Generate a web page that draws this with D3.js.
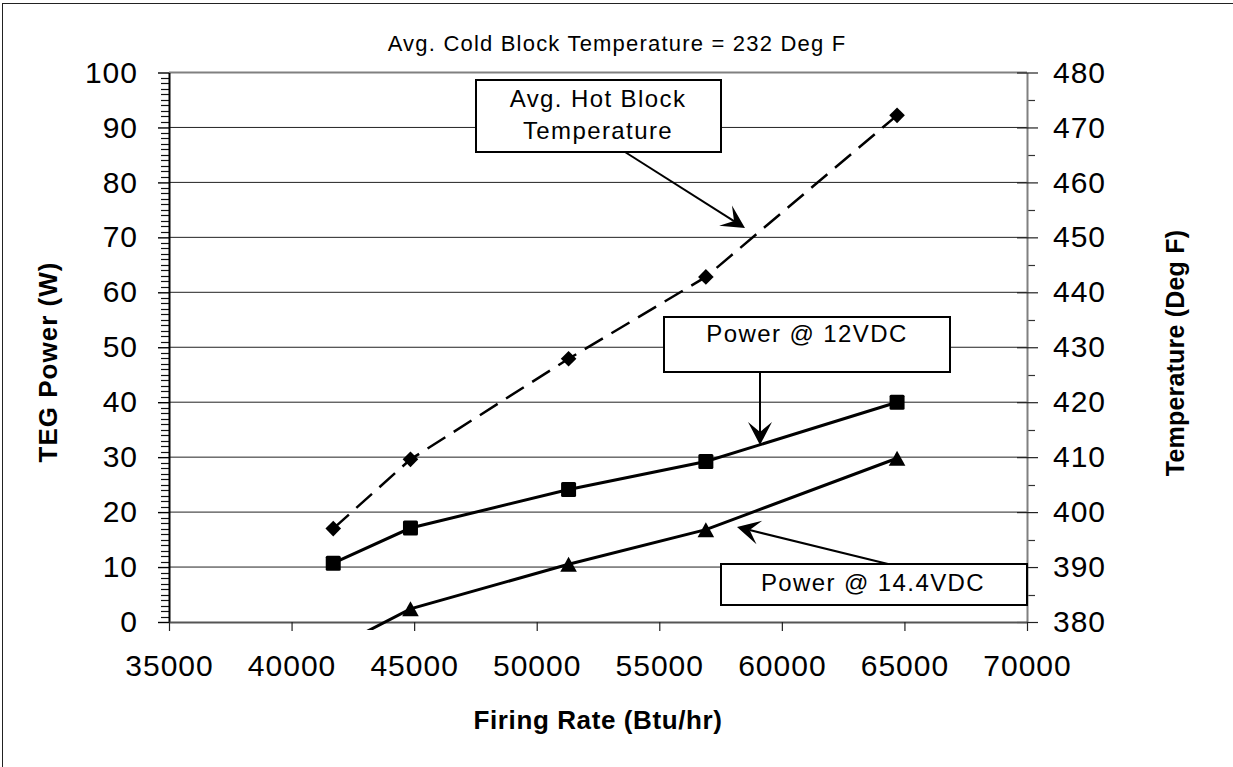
<!DOCTYPE html>
<html>
<head>
<meta charset="utf-8">
<script src="https://cdn.jsdelivr.net/npm/d3@7"></script>
<style>
  html, body { margin: 0; padding: 0; background: #fff; }
  svg { display: block; }
  text { font-family: "Liberation Sans", Arial, sans-serif; fill: #000; }
</style>
</head>
<body>
<svg id="chart" width="1233" height="767"></svg>
<script>
// ---------------- DATA ----------------
const firingRate   = [41700, 44850, 51300, 56900, 64700];        // Btu/hr
const power12VDC   = [10.7, 17.1, 24.1, 29.2, 40.0];             // W
const power144VDC  = [-4.9, 2.4, 10.5, 16.8, 29.8];              // W
const hotBlockTemp = [397.0, 409.6, 427.9, 442.8, 472.2];        // Deg F
const xTicks  = [35000, 40000, 45000, 50000, 55000, 60000, 65000, 70000];
const yTicks  = [0, 10, 20, 30, 40, 50, 60, 70, 80, 90, 100];
const yMinorTicks  = d3.range(1, 100).filter(v => v % 10 !== 0);
const y2Ticks = [380, 390, 400, 410, 420, 430, 440, 450, 460, 470, 480];
const y2MinorTicks = [385, 395, 405, 415, 425, 435, 445, 455, 465, 475];
const titleText = "Avg. Cold Block Temperature = 232 Deg F";
const xTitle = "Firing Rate (Btu/hr)";
const yTitle = "TEG Power (W)";
const y2Title = "Temperature (Deg F)";
const labelHot = ["Avg. Hot Block", "Temperature"];
const label12 = "Power @ 12VDC";
const label144 = "Power @ 14.4VDC";

// ---------------- LAYOUT ----------------
const L = 169, R = 1027, T = 72.5, B = 622;
const svg = d3.select("#chart");
const FONT = '"Liberation Sans", Arial, sans-serif';

const x  = d3.scaleLinear().domain([35000, 70000]).range([L, R]);
const y  = d3.scaleLinear().domain([0, 100]).range([B, T]);
const y2 = d3.scaleLinear().domain([380, 480]).range([B, T]);

// outer frame
svg.append("rect").attr("x", 2.5).attr("y", 3.5).attr("width", 1300).attr("height", 900)
  .attr("fill", "none").attr("stroke", "#222").attr("stroke-width", 1);

// gridlines
svg.append("g").selectAll("line").data(yTicks.filter(v => v > 0 && v < 100)).join("line")
  .attr("x1", L).attr("x2", R).attr("y1", d => y(d)).attr("y2", d => y(d))
  .attr("stroke", "#222").attr("stroke-width", 1);

// plot border top (gray)
svg.append("line").attr("x1", L).attr("x2", R).attr("y1", T).attr("y2", T)
  .attr("stroke", "#808080").attr("stroke-width", 2);

// ---------------- AXES ----------------
// left minor ticks
svg.append("g").attr("class", "minorL").selectAll("line").data(yMinorTicks).join("line")
  .attr("x1", L - 8).attr("x2", L).attr("y1", d => Math.round(y(d)) + 0.5).attr("y2", d => Math.round(y(d)) + 0.5)
  .attr("stroke", "#111").attr("stroke-width", 1.2);

const gL = svg.append("g").attr("transform", `translate(${L},0)`)
  .call(d3.axisLeft(y).tickValues(yTicks).tickSize(11).tickPadding(20).tickSizeOuter(0));
gL.select(".domain").attr("stroke", "#000").attr("stroke-width", 2);
gL.selectAll(".tick line").attr("stroke", "#000").attr("stroke-width", 1.4);
gL.selectAll("text").attr("font-family", FONT).attr("font-size", 30).attr("letter-spacing", 1);

// right minor ticks
svg.append("g").attr("class", "minorR").selectAll("line").data(y2MinorTicks).join("line")
  .attr("x1", R).attr("x2", R + 8).attr("y1", d => Math.round(y2(d)) + 0.5).attr("y2", d => Math.round(y2(d)) + 0.5)
  .attr("stroke", "#333").attr("stroke-width", 1.2);

const gR = svg.append("g").attr("transform", `translate(${R},0)`)
  .call(d3.axisRight(y2).tickValues(y2Ticks).tickSize(11).tickPadding(15).tickSizeOuter(0));
gR.select(".domain").attr("stroke", "#808080").attr("stroke-width", 2);
gR.selectAll(".tick line").attr("x1", -10).attr("stroke", "#222").attr("stroke-width", 1.2);
gR.selectAll("text").attr("font-family", FONT).attr("font-size", 30).attr("letter-spacing", 1);

// bottom axis
const gB = svg.append("g").attr("transform", `translate(0,${B})`)
  .call(d3.axisBottom(x).tickValues(xTicks).tickFormat(d3.format("d")).tickSize(9).tickPadding(24).tickSizeOuter(0));
gB.select(".domain").attr("stroke", "#555").attr("stroke-width", 2);
gB.selectAll(".tick line").attr("stroke", "#222").attr("stroke-width", 1.2);
gB.selectAll("text").attr("font-family", FONT).attr("font-size", 30).attr("letter-spacing", 1);

// ---------------- SERIES ----------------
svg.append("defs").append("clipPath").attr("id", "plotclip")
  .append("rect").attr("x", L).attr("y", T - 10).attr("width", R - L).attr("height", B - T + 18);
const gS = svg.append("g").attr("clip-path", "url(#plotclip)");

const hotPts = firingRate.map((f, i) => [x(f), y2(hotBlockTemp[i])]);
const p12Pts = firingRate.map((f, i) => [x(f), y(power12VDC[i])]);
const p144Pts = firingRate.map((f, i) => [x(f), y(power144VDC[i])]);
const line = d3.line();

gS.append("path").attr("d", line(hotPts)).attr("fill", "none").attr("stroke", "#000")
  .attr("stroke-width", 2.5).attr("stroke-dasharray", "21,10");
gS.append("path").attr("d", line(p12Pts)).attr("fill", "none").attr("stroke", "#000").attr("stroke-width", 3);
gS.append("path").attr("d", line(p144Pts)).attr("fill", "none").attr("stroke", "#000").attr("stroke-width", 3);

// markers
const gM = svg.append("g").attr("clip-path", "url(#plotclip)");
gM.selectAll(".dia").data(hotPts).join("path")
  .attr("d", d => `M${d[0]},${d[1]-7.8}L${d[0]+7.8},${d[1]}L${d[0]},${d[1]+7.8}L${d[0]-7.8},${d[1]}Z`)
  .attr("fill", "#000");
gM.selectAll(".sq").data(p12Pts).join("rect")
  .attr("x", d => d[0] - 7.5).attr("y", d => d[1] - 7.5).attr("width", 15).attr("height", 15)
  .attr("rx", 1.5).attr("fill", "#000");
gM.selectAll(".tri").data(p144Pts.filter(p => p[1] <= B)).join("path")
  .attr("d", d => `M${d[0]},${d[1]-7.5}L${d[0]+8.3},${d[1]+7.5}L${d[0]-8.3},${d[1]+7.5}Z`)
  .attr("fill", "#000");

// ---------------- TITLES ----------------
svg.append("text").attr("x", 617).attr("y", 51).attr("text-anchor", "middle")
  .attr("font-size", 22).attr("letter-spacing", 1.2).text(titleText);
svg.append("text").attr("x", 598).attr("y", 729).attr("text-anchor", "middle")
  .attr("font-size", 26).attr("font-weight", "bold").attr("letter-spacing", 0.6).text(xTitle);
svg.append("text").attr("transform", "translate(57,362) rotate(-90)").attr("text-anchor", "middle")
  .attr("font-size", 26).attr("font-weight", "bold").attr("letter-spacing", 1).text(yTitle);
svg.append("text").attr("transform", "translate(1184,353) rotate(-90)").attr("text-anchor", "middle")
  .attr("font-size", 25).attr("font-weight", "bold").attr("letter-spacing", 0.2).text(y2Title);

// ---------------- ANNOTATIONS ----------------
function arrow(x1, y1, x2, y2) {
  const a = Math.atan2(y2 - y1, x2 - x1);
  const back = 13;
  svg.append("line").attr("x1", x1).attr("y1", y1)
    .attr("x2", x2 - back * Math.cos(a)).attr("y2", y2 - back * Math.sin(a))
    .attr("stroke", "#000").attr("stroke-width", 2);
  svg.append("path").attr("d", "M0,0L-23,-12L-13,0L-23,12Z")
    .attr("transform", `translate(${x2},${y2}) rotate(${a * 180 / Math.PI})`)
    .attr("fill", "#000");
}
function box(x0, y0, x1, y1) {
  svg.append("rect").attr("x", x0).attr("y", y0).attr("width", x1 - x0).attr("height", y1 - y0)
    .attr("fill", "#fff").attr("stroke", "#000").attr("stroke-width", 2);
}

// Hot block
box(476, 80, 721, 152);
svg.append("text").attr("x", 598).attr("y", 107).attr("text-anchor", "middle")
  .attr("font-size", 24).attr("letter-spacing", 1.4).text(labelHot[0]);
svg.append("text").attr("x", 598).attr("y", 139).attr("text-anchor", "middle")
  .attr("font-size", 24).attr("letter-spacing", 1.4).text(labelHot[1]);
arrow(625, 152, 745, 228);

// 12 VDC
box(664, 317, 950, 372);
svg.append("text").attr("x", 807).attr("y", 342).attr("text-anchor", "middle")
  .attr("font-size", 24).attr("letter-spacing", 1.4).text(label12);
arrow(760, 372, 760, 445);

// 14.4 VDC
box(721, 564, 1027, 605);
svg.append("text").attr("x", 873).attr("y", 591).attr("text-anchor", "middle")
  .attr("font-size", 24).attr("letter-spacing", 1.4).text(label144);
arrow(888, 564, 737, 527);
</script>
</body>
</html>
